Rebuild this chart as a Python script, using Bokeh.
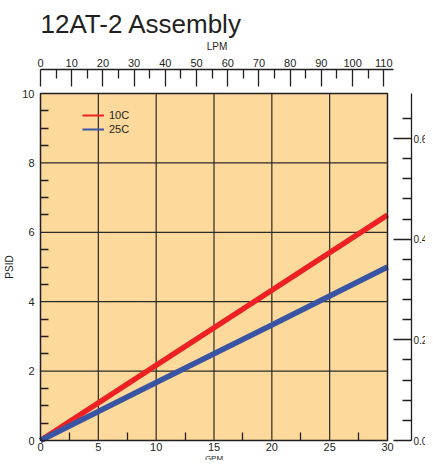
from bokeh.plotting import figure
from bokeh.models import (LinearAxis, Range1d, FixedTicker, Legend, LegendItem, Label)
from bokeh.embed import file_html
from bokeh.resources import INLINE

# ---- data ----
gpm = [0, 10, 20, 30]
psid_10c = [0, 2.17, 4.33, 6.5]
psid_25c = [0, 1.67, 3.33, 5.0]

x_ticks = [0, 5, 10, 15, 20, 25, 30]
x_minor = [2.5, 7.5, 12.5, 17.5, 22.5, 27.5]
y_ticks = [0, 2, 4, 6, 8, 10]
y_minor = [0.5, 1, 1.5, 2.5, 3, 3.5, 4.5, 5, 5.5, 6.5, 7, 7.5, 8.5, 9, 9.5]
lpm_ticks = [0, 10, 20, 30, 40, 50, 60, 70, 80, 90, 100, 110]
lpm_minor = [5, 15, 25, 35, 45, 55, 65, 75, 85, 95, 105]
bar_ticks = [0, 0.2, 0.4, 0.6]
bar_minor = [0.04, 0.08, 0.12, 0.16, 0.24, 0.28, 0.32, 0.36, 0.44, 0.48, 0.52, 0.56, 0.64]
bar_labels = {0: "0.0", 0.2: "0.20", 0.4: "0.40", 0.6: "0.60"}
PSI_PER_BAR = 14.5038

TXT = "#231f20"
FONT = "Liberation Sans Narrow, Liberation Sans, sans-serif"

# canvas geometry (pixels) of the chart box
CH_L, CH_R, CH_T, CH_B = 40, 387, 93, 440
PX_X = (CH_R - CH_L) / 30.0      # pixels per GPM
PX_Y = (CH_B - CH_T) / 10.0      # pixels per PSID
W, H = 425, 460
x0 = -CH_L / PX_X
y0 = -(H - CH_B) / PX_Y

p = figure(frame_width=W, frame_height=H, output_backend="svg", toolbar_location=None,
           x_range=Range1d(x0, x0 + W / PX_X), y_range=Range1d(y0, y0 + H / PX_Y),
           x_axis_location=None, y_axis_location=None,
           min_border_left=0, min_border_right=0, min_border_top=0,
           min_border_bottom=0,
           background_fill_color="white", border_fill_color="white")
p.outline_line_color = None
p.xgrid.visible = False
p.ygrid.visible = False

lpm_per_px = 110 / (383.3 - CH_L)
p.extra_x_ranges = {"lpm": Range1d(x0 * PX_X * lpm_per_px, (x0 * PX_X + W) * lpm_per_px)}
p.extra_y_ranges = {"bar": Range1d(y0 / PSI_PER_BAR, (y0 + H / PX_Y) / PSI_PER_BAR)}

# title
p.add_layout(Label(x=x_ticks[0], y=(CH_B - 23) / PX_Y, text="12AT-2 Assembly",
                   text_font="Liberation Sans", text_font_size="26px",
                   text_color=TXT, text_baseline="alphabetic", text_align="left"))


def style(ax, size="11px"):
    ax.major_label_text_font = FONT
    ax.major_label_text_font_size = size
    ax.major_label_text_color = TXT
    ax.axis_label_text_font = FONT
    ax.axis_label_text_font_size = "10px"
    ax.axis_label_text_font_style = "normal"
    ax.axis_label_text_color = TXT
    ax.axis_line_color = TXT
    ax.axis_line_width = 1.3
    ax.major_tick_line_color = TXT
    ax.minor_tick_line_color = TXT
    ax.major_tick_line_width = 1.3
    ax.minor_tick_line_width = 1.3


# orange chart area
p.quad(left=x_ticks[0], right=x_ticks[-1], bottom=y_ticks[0], top=y_ticks[-1],
       fill_color="#fdd99b", line_color=None)

# grid lines
p.segment(x0=x_ticks[1:-1], y0=[y_ticks[0]] * 5, x1=x_ticks[1:-1], y1=[y_ticks[-1]] * 5,
          line_color="#2a2a2a", line_width=1.2)
p.segment(x0=[x_ticks[0]] * 4, y0=y_ticks[1:-1], x1=[x_ticks[-1]] * 4, y1=y_ticks[1:-1],
          line_color="#2a2a2a", line_width=1.2)

RED = "#ed2024"
BLUE = "#3a54a4"
p.line(gpm, psid_10c, line_color=RED, line_width=5.5, line_cap="butt")
p.line(gpm, psid_25c, line_color=BLUE, line_width=5.5, line_cap="butt")

# chart border
p.quad(left=x_ticks[0], right=x_ticks[-1], bottom=y_ticks[0], top=y_ticks[-1],
       fill_color=None, line_color=TXT, line_width=1.5)

# left PSID axis
left = LinearAxis(axis_label="PSID", ticker=FixedTicker(ticks=y_ticks, minor_ticks=y_minor),
                  bounds=(0, 10), fixed_location=0)
style(left)
left.axis_line_color = None
left.major_tick_in = 0
left.major_tick_out = 0
left.minor_tick_in = 8
left.minor_tick_out = 0
left.major_label_standoff = 6
left.axis_label_standoff = 4
p.add_layout(left, "left")

# bottom GPM axis
bottom = LinearAxis(axis_label="GPM", ticker=FixedTicker(ticks=x_ticks, minor_ticks=x_minor),
                    bounds=(0, 30), fixed_location=0)
style(bottom)
bottom.axis_line_color = None
bottom.major_tick_in = 0
bottom.major_tick_out = 0
bottom.minor_tick_in = 8
bottom.minor_tick_out = 0
bottom.major_label_standoff = 2
bottom.axis_label_standoff = 0
bottom.axis_label_text_font_size = "8px"
p.add_layout(bottom, "below")

# top LPM axis
top = LinearAxis(x_range_name="lpm", axis_label="LPM",
                 ticker=FixedTicker(ticks=lpm_ticks, minor_ticks=lpm_minor),
                 fixed_location=(CH_B - 69) / PX_Y, bounds=(0, 113))
style(top)
top.major_tick_in = 17
top.major_tick_out = 0
top.minor_tick_in = 9
top.minor_tick_out = 0
top.major_label_standoff = 3
top.axis_label_standoff = 4
p.add_layout(top, "above")

# right BAR axis
right = LinearAxis(y_range_name="bar", axis_label="BAR",
                   ticker=FixedTicker(ticks=bar_ticks, minor_ticks=bar_minor),
                   fixed_location=(411 - CH_L) / PX_X, bounds=(0, 10 / PSI_PER_BAR),
                   major_label_overrides=bar_labels)
style(right, "10px")
right.major_tick_in = 18
right.major_tick_out = 0
right.minor_tick_in = 9
right.minor_tick_out = 0
right.major_label_standoff = 2
right.axis_label_standoff = 2
p.add_layout(right, "right")

# legend-only renderers with thin lines
l1 = p.line(gpm, psid_10c, line_color=RED, line_width=2, visible=False)
l2 = p.line(gpm, psid_25c, line_color=BLUE, line_width=2, visible=False)
legend = Legend(items=[LegendItem(label="10C", renderers=[l1]),
                       LegendItem(label="25C", renderers=[l2])],
                location=(82, H - 136), padding=0, margin=0, spacing=0,
                glyph_width=22, glyph_height=14, label_height=14,
                label_standoff=5, border_line_color=None,
                background_fill_alpha=0, inactive_fill_alpha=0,
                label_text_font=FONT, label_text_font_size="11px",
                label_text_color=TXT)
p.add_layout(legend)

open("out.html", "w").write(file_html(p, INLINE))
